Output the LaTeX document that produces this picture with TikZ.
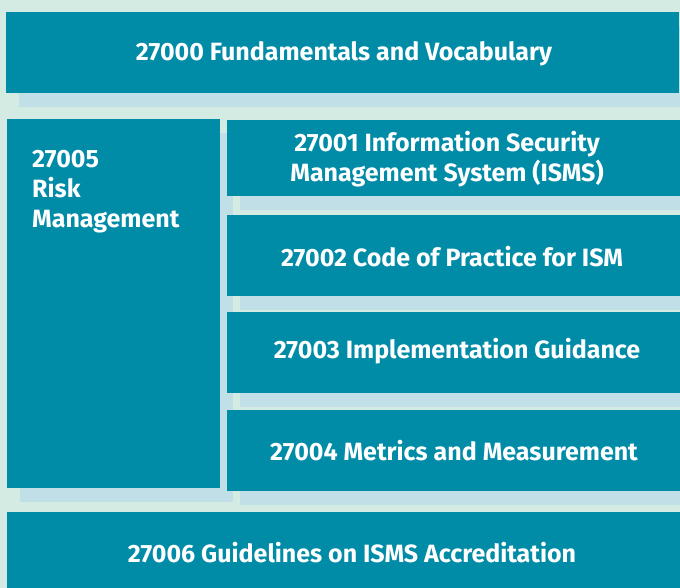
\documentclass[tikz,border=0pt]{standalone}
\usepackage{fontspec}
\setmainfont{Fira Sans}
\usetikzlibrary{shadows}
\definecolor{pagebg}{RGB}{212,235,228}
\definecolor{boxfill}{RGB}{0,139,167}
\definecolor{shadowfill}{RGB}{192,223,230}
\tikzset{
  block/.style={fill=boxfill, draw=none, inner sep=0pt, anchor=north west,
    drop shadow={shadow xshift=13pt, shadow yshift=-14pt, fill=shadowfill, opacity=1}},
  blocktext/.style={text=white, font=\fontsize{25}{30}\selectfont\bfseries, align=center, inner sep=0pt}
}
\begin{document}
\begin{tikzpicture}[x=1pt,y=-1pt]
  \fill[pagebg] (0,0) rectangle (680,588);
  \useasboundingbox (0,0) rectangle (680,588);

  % family of standards, drawn as stacked blocks
  \node[block, minimum width=673pt, minimum height=81pt] (b27000) at (6,12) {};
  \node[block, minimum width=213pt, minimum height=369pt] (b27005) at (7,119) {};
  \node[block, minimum width=453pt, minimum height=76pt] (b27001) at (227,120) {};
  \node[block, minimum width=453pt, minimum height=81pt] (b27002) at (227,215) {};
  \node[block, minimum width=453pt, minimum height=81pt] (b27003) at (227,312) {};
  \node[block, minimum width=453pt, minimum height=81pt] (b27004) at (227,410) {};
  \node[fill=boxfill, inner sep=0pt, anchor=north west, minimum width=673pt, minimum height=80pt] (b27006) at (7,512) {};

  % labels
  \node[blocktext] (t27000) at (344,54) {27000 Fundamentals and Vocabulary};
  \node[blocktext, align=left, anchor=base west] (t27005) at (32,228) {27005\\Risk\\Management};
  \node[blocktext] (t27001) at (447,159) {27001 Information Security\\Management System (ISMS)};
  \node[blocktext] (t27002) at (452,257) {27002 Code of Practice for ISM};
  \node[blocktext] (t27003) at (457,351) {27003 Implementation Guidance};
  \node[blocktext] (t27004) at (454,451) {27004 Metrics and Measurement};
  \node[blocktext] (t27006) at (352,553) {27006 Guidelines on ISMS Accreditation};
\end{tikzpicture}
\end{document}
